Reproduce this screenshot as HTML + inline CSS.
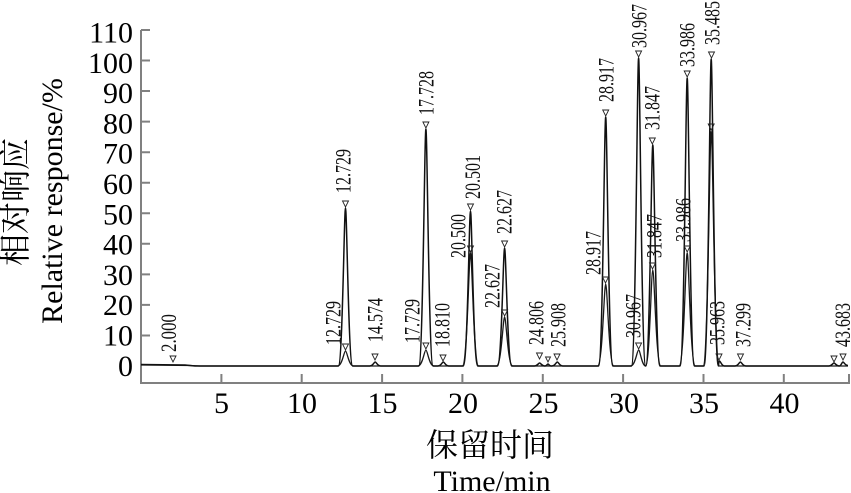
<!DOCTYPE html>
<html>
<head>
<meta charset="utf-8">
<style>
html,body{margin:0;padding:0;background:#fff;}
svg{display:block;}
.t{font-family:"Liberation Serif","Noto Serif CJK SC",serif;fill:#000;}
.pl{font-family:"Liberation Serif",serif;font-size:22px;fill:#111;}
</style>
</head>
<body>
<svg width="851" height="493" viewBox="0 0 851 493" xmlns="http://www.w3.org/2000/svg">
<rect width="851" height="493" fill="#fff"/>

<!-- axes -->
<g stroke="#808080" stroke-width="2" fill="none">
  <path d="M141,30 V383 H849 V374"/>
  <path d="M141,30h9M141,60.5h9M141,91h9M141,121.6h9M141,152.2h9M141,182.7h9M141,213.3h9M141,243.8h9M141,274.4h9M141,304.9h9M141,335.5h9"/>
  <path d="M221.4,383v-9M301.7,383v-9M382.1,383v-9M462.4,383v-9M542.8,383v-9M623.1,383v-9M703.5,383v-9M783.8,383v-9"/>
</g>

<!-- y tick labels -->
<g class="t" font-size="30" text-anchor="end">
  <text x="133" y="42.5">110</text>
  <text x="133" y="72.8">100</text>
  <text x="133" y="103.1">90</text>
  <text x="133" y="133.4">80</text>
  <text x="133" y="163.7">70</text>
  <text x="133" y="194">60</text>
  <text x="133" y="224.3">50</text>
  <text x="133" y="254.6">40</text>
  <text x="133" y="284.9">30</text>
  <text x="133" y="315.2">20</text>
  <text x="133" y="345.5">10</text>
  <text x="133" y="375.8">0</text>
</g>

<!-- x tick labels -->
<g class="t" font-size="30" text-anchor="middle">
  <text x="221.5" y="413">5</text>
  <text x="302" y="413">10</text>
  <text x="382.5" y="413">15</text>
  <text x="463" y="413">20</text>
  <text x="543.5" y="413">25</text>
  <text x="624" y="413">30</text>
  <text x="704" y="413">35</text>
  <text x="784.5" y="413">40</text>
</g>

<!-- axis titles -->
<text class="t" font-size="32" text-anchor="middle" x="490" y="456">保留时间</text>
<text class="t" font-size="30" text-anchor="middle" x="492" y="491">Time/min</text>
<text class="t" font-size="32" text-anchor="middle" transform="translate(26,202) rotate(-90)">相对响应</text>
<text class="t" font-size="30" text-anchor="middle" transform="translate(62,201) rotate(-90)">Relative response/%</text>

<!-- second trace -->
<path fill="none" stroke="#1a1a1a" stroke-width="1.3" stroke-linejoin="round" d="
M141,365 L190,365.5 L200,366
L337.4,366 C342.3,366 343.9,351 345.5,351 C347.1,351 348.7,366 353.6,366
L417.8,366 C422.7,366 424.3,350 425.9,350 C427.5,350 429.1,366 434,366
L462.4,366 C467.3,366 468.9,253 470.5,253 C472.1,253 473.7,366 478.6,366
L496.5,366 C501.4,366 503,317 504.6,317 C506.2,317 507.8,366 512.7,366
L597.6,366 C602.5,366 604.1,284 605.7,284 C607.3,284 608.9,366 613.8,366
L630.5,366 C635.4,366 637,350 638.6,350 C640.2,350 641.8,366 645.7,366
C649.6,366 651.2,270 652.8,270 C654.4,270 656,366 660.9,366
L679.1,366 C684,366 685.6,253 687.2,253 C688.8,253 690.4,366 695.3,366
L703.1,366 C708,366 709.6,131 711.2,131 C712.8,131 714.4,366 719.3,366
L848,366"/>

<!-- main trace -->
<path fill="none" stroke="#111" stroke-width="1.5" stroke-linejoin="round" d="
M141,364.5 L185,365 L195,366 L300,366
L338.3,366 C342.6,366 344.1,208 345.5,208 C346.9,208 348.4,366 352.7,366
L369.8,366 C373,366 374.1,362 375.2,362 C376.3,362 377.4,366 380.6,366
L418.7,366 C423,366 424.5,129 425.9,129 C427.3,129 428.8,366 433.1,366
L437.9,366 C441.1,366 442.2,362 443.3,362 C444.4,362 445.5,366 448.7,366
L463.3,366 C467.6,366 469.1,211 470.5,211 C471.9,211 473.4,366 477.7,366
L497.4,366 C501.7,366 503.2,248 504.6,248 C506,248 507.5,366 511.8,366
L534.2,366 C537.4,366 538.5,363 539.6,363 C540.7,363 541.8,366 545,366
C546.5,366 547.3,364 548,364 C548.7,364 549.5,366 551,366
L551.9,366 C555.1,366 556.2,362 557.3,362 C558.4,362 559.5,366 562.7,366
L598.5,366 C602.8,366 604.3,117 605.7,117 C607.1,117 608.6,366 612.9,366
L631.4,366 C635.7,366 637.2,58 638.6,58 C640,58 641.5,366 645.7,366
C649.9,366 651.4,145 652.8,145 C654.2,145 655.7,366 660,366
L680,366 C684.3,366 685.8,78 687.2,78 C688.6,78 690.1,366 694.4,366
L704,366 C708.3,366 709.8,59 711.2,59 C712.6,59 714.1,366 718.4,366
C718.6,366 718.7,361 719.4,361 C720.5,361 721.6,366 724.4,366
L735,366 C738.2,366 739.3,362 740.4,362 C741.5,362 742.6,366 745.8,366
L828.6,366 C831.8,366 832.9,363 834,363 C835.1,363 836.2,366 839.4,366
C841,366 842,362 843,362 C844,362 845,365.5 848,365.5"/>

<!-- markers -->
<g fill="none" stroke="#222" stroke-width="0.9" stroke-linejoin="miter">
  <path d="M170,356h6l-3,6z"/>
  <path d="M342.5,201h6l-3,6z"/>
  <path d="M372,354h6l-3,6z"/>
  <path d="M422.9,122h6l-3,6z"/>
  <path d="M440,355h6l-3,6z"/>
  <path d="M467.5,204h6l-3,6z"/>
  <path d="M501.6,241h6l-3,6z"/>
  <path d="M536.5,353h6l-3,6z"/>
  <path d="M545.5,357h5l-2.5,5z"/>
  <path d="M554,354h6l-3,6z"/>
  <path d="M602.7,110h6l-3,6z"/>
  <path d="M635.6,51h6l-3,6z"/>
  <path d="M649.3,138h6l-3,6z"/>
  <path d="M684.2,71h6l-3,6z"/>
  <path d="M708.5,52h6l-3,6z"/>
  <path d="M716,354h6l-3,6z"/>
  <path d="M737.5,354h6l-3,6z"/>
  <path d="M831,356h6l-3,6z"/>
  <path d="M840,354h6l-3,6z"/>
  <path d="M342.5,344h6l-3,6z"/>
  <path d="M422.9,343h6l-3,6z"/>
  <path d="M467.5,246h6l-3,6z"/>
  <path d="M501.6,310h6l-3,6z"/>
  <path d="M602.5,277h6l-3,6z"/>
  <path d="M635.6,343h6l-3,6z"/>
  <path d="M649.5,263h6l-3,6z"/>
  <path d="M684.2,246h6l-3,6z"/>
  <path d="M708.2,124h6l-3,6z"/>
</g>

<!-- peak labels -->
<g class="pl">
  <text transform="translate(176,352) rotate(-90)" textLength="38" lengthAdjust="spacingAndGlyphs">2.000</text>
  <text transform="translate(350.5,193) rotate(-90)" textLength="44" lengthAdjust="spacingAndGlyphs">12.729</text>
  <text transform="translate(382.5,342) rotate(-90)" textLength="44" lengthAdjust="spacingAndGlyphs">14.574</text>
  <text transform="translate(433.5,115) rotate(-90)" textLength="44" lengthAdjust="spacingAndGlyphs">17.728</text>
  <text transform="translate(449.5,347) rotate(-90)" textLength="44" lengthAdjust="spacingAndGlyphs">18.810</text>
  <text transform="translate(480,199) rotate(-90)" textLength="44" lengthAdjust="spacingAndGlyphs">20.501</text>
  <text transform="translate(511.5,234) rotate(-90)" textLength="44" lengthAdjust="spacingAndGlyphs">22.627</text>
  <text transform="translate(543.5,345) rotate(-90)" textLength="44" lengthAdjust="spacingAndGlyphs">24.806</text>
  <text transform="translate(565.5,347) rotate(-90)" textLength="44" lengthAdjust="spacingAndGlyphs">25.908</text>
  <text transform="translate(613.5,102) rotate(-90)" textLength="44" lengthAdjust="spacingAndGlyphs">28.917</text>
  <text transform="translate(646.5,48) rotate(-90)" textLength="44" lengthAdjust="spacingAndGlyphs">30.967</text>
  <text transform="translate(659.5,130) rotate(-90)" textLength="44" lengthAdjust="spacingAndGlyphs">31.847</text>
  <text transform="translate(694.5,67) rotate(-90)" textLength="44" lengthAdjust="spacingAndGlyphs">33.986</text>
  <text transform="translate(719.5,45) rotate(-90)" textLength="44" lengthAdjust="spacingAndGlyphs">35.485</text>
  <text transform="translate(724.5,345) rotate(-90)" textLength="44" lengthAdjust="spacingAndGlyphs">35.963</text>
  <text transform="translate(750.5,347) rotate(-90)" textLength="44" lengthAdjust="spacingAndGlyphs">37.299</text>
  <text transform="translate(850,347) rotate(-90)" textLength="44" lengthAdjust="spacingAndGlyphs">43.683</text>
  <text transform="translate(340.5,345) rotate(-90)" textLength="44" lengthAdjust="spacingAndGlyphs">12.729</text>
  <text transform="translate(419.5,343) rotate(-90)" textLength="44" lengthAdjust="spacingAndGlyphs">17.729</text>
  <text transform="translate(465.5,258) rotate(-90)" textLength="44" lengthAdjust="spacingAndGlyphs">20.500</text>
  <text transform="translate(499.5,308) rotate(-90)" textLength="44" lengthAdjust="spacingAndGlyphs">22.627</text>
  <text transform="translate(600.5,275) rotate(-90)" textLength="44" lengthAdjust="spacingAndGlyphs">28.917</text>
  <text transform="translate(640.5,338) rotate(-90)" textLength="44" lengthAdjust="spacingAndGlyphs">30.967</text>
  <text transform="translate(661.5,258) rotate(-90)" textLength="44" lengthAdjust="spacingAndGlyphs">31.847</text>
  <text transform="translate(690.5,242) rotate(-90)" textLength="44" lengthAdjust="spacingAndGlyphs">33.986</text>
</g>
</svg>
</body>
</html>
